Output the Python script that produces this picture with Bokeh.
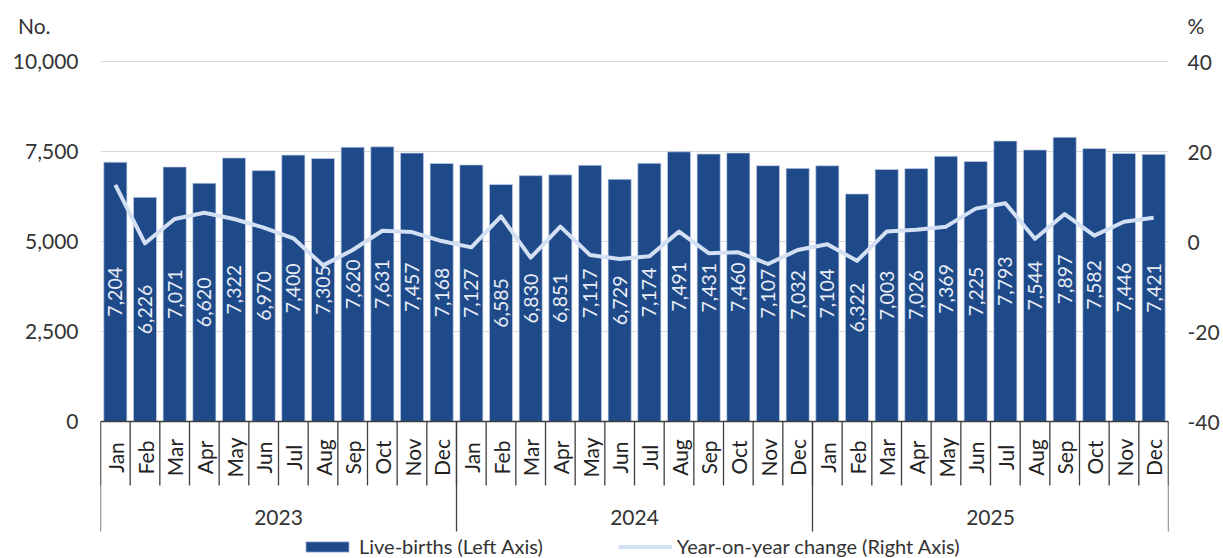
import math
from bokeh.plotting import figure
from bokeh.models import (Range1d, LinearAxis, FixedTicker, NumeralTickFormatter,
                          Legend, LegendItem, ColumnDataSource)
from bokeh.embed import file_html
from bokeh.resources import INLINE
from bokeh.core.properties import value

# ---------------- data ----------------
months = ["Jan", "Feb", "Mar", "Apr", "May", "Jun",
          "Jul", "Aug", "Sep", "Oct", "Nov", "Dec"]
years = ["2023", "2024", "2025"]
births = [7204, 6226, 7071, 6620, 7322, 6970, 7400, 7305, 7620, 7631, 7457, 7168,
          7127, 6585, 6830, 6851, 7117, 6729, 7174, 7491, 7431, 7460, 7107, 7032,
          7104, 6322, 7003, 7026, 7369, 7225, 7793, 7544, 7897, 7582, 7446, 7421]
yoy = [12.6, -0.4, 5.0, 6.4, 5.0, 3.1, 0.7, -5.3, -1.9, 2.4, 2.1, 0.1,
       -1.3, 5.6, -3.6, 3.3, -3.0, -3.9, -3.3, 2.2, -2.6, -2.4, -5.0, -1.9,
       -0.6, -4.3, 2.2, 2.6, 3.3, 7.3, 8.5, 0.6, 6.1, 1.3, 4.4, 5.3]
left_ticks = [0, 2500, 5000, 7500, 10000]
right_ticks = [-40, -20, 0, 20, 40]
left_unit = "No."
right_unit = "%"
bar_label = "Live-births (Left Axis)"
line_label = "Year-on-year change (Right Axis)"

# ---------------- layout ----------------
FONT = "Lato"
BAR = "#1F4A8A"
LINE = "#D3DFF2"
INK = "#333333"
AX = "#3F3F3F"

W, H = 1223, 558
FL, FR = 100, 1168           # frame left / right (px)
n = len(births)
Y0_PX, YTOP_PX = 421, 61     # px of left 0 and left 10000
ppu = (Y0_PX - YTOP_PX) / (left_ticks[-1] - left_ticks[0])
y_hi = left_ticks[-1] + YTOP_PX / ppu
y_lo = left_ticks[0] - (H - Y0_PX) / ppu
r_scale = (right_ticks[-1] - right_ticks[0]) / (left_ticks[-1] - left_ticks[0])


def to_right(v):
    return right_ticks[0] + (v - left_ticks[0]) * r_scale


def px2y(iy):   # pixel row -> left y data
    return (Y0_PX - iy) / ppu


UNIT_Y = round(px2y(25))
UNIT_R = round(to_right(UNIT_Y))

p = figure(width=W, height=H, x_range=Range1d(-0.5, n - 0.5),
           y_range=Range1d(y_lo, y_hi), output_backend="svg",
           toolbar_location=None, x_axis_location=None,
           min_border_left=FL, min_border_right=W - FR,
           min_border_top=0, min_border_bottom=0,
           outline_line_color=None, background_fill_color="white",
           border_fill_color="white")


def style_axis(a, standoff):
    a.axis_line_color = None
    a.major_tick_line_color = None
    a.minor_tick_line_color = None
    a.major_tick_out = 0
    a.major_tick_in = 0
    a.major_label_standoff = standoff
    a.major_label_text_font = FONT
    a.major_label_text_font_size = "21px"
    a.major_label_text_color = INK


# left axis (values)
ya = p.yaxis[0]
ya.ticker = FixedTicker(ticks=left_ticks)
ya.formatter = NumeralTickFormatter(format="0,0")
style_axis(ya, 22)

# left unit caption as an outer axis label
ua = LinearAxis(ticker=FixedTicker(ticks=[UNIT_Y]),
                major_label_overrides={UNIT_Y: left_unit})
style_axis(ua, -41)
p.add_layout(ua, "left")

# right axis (percent) with unit caption at its top
p.extra_y_ranges = {"pct": Range1d(to_right(y_lo), to_right(y_hi))}
ra = LinearAxis(y_range_name="pct",
                ticker=FixedTicker(ticks=right_ticks + [UNIT_R]),
                formatter=NumeralTickFormatter(format="0"),
                major_label_overrides={UNIT_R: right_unit})
style_axis(ra, 19)
p.add_layout(ra, "right")

p.xgrid.visible = False
p.ygrid.ticker = FixedTicker(ticks=left_ticks[1:])
p.ygrid.grid_line_color = "#D9D9D9"
p.ygrid.grid_line_width = 1

xs = list(range(n))
src = ColumnDataSource(dict(x=xs, births=births, half=[b / 2 for b in births],
                            lab=[f"{b:,}" for b in births], yoy=yoy))

bars = p.vbar(x="x", top="births", bottom=0, width=0.78, source=src,
              fill_color=BAR, line_color="#C9D6EC", line_width=1, line_alpha=0.7)

p.text(x="x", y="half", text="lab", source=src, angle=math.pi / 2,
       text_align="center", text_baseline="middle", text_color="#E9EEF6",
       text_font=value(FONT), text_font_size="19.5px")

# category axis drawn by hand
sep_x = [k - 0.5 for k in range(n + 1)]
p.segment(x0=sep_x, y0=[0] * len(sep_x), x1=sep_x, y1=[px2y(485)] * len(sep_x),
          line_color=AX, line_width=1.3)
year_sep = [k * len(months) - 0.5 for k in range(len(years) + 1)]
p.segment(x0=year_sep, y0=[0] * len(year_sep), x1=year_sep,
          y1=[px2y(531)] * len(year_sep), line_color=AX, line_width=1.3)
p.segment(x0=[-0.5], y0=[0], x1=[n - 0.5], y1=[0], line_color=AX, line_width=1.5)

p.text(x=xs, y=[px2y(457)] * n, text=[months[i % 12] for i in xs],
       angle=math.pi / 2, text_align="center", text_baseline="middle",
       text_color="#222222", text_font=value(FONT), text_font_size="21px")
p.text(x=[k * len(months) + (len(months) - 1) / 2 for k in range(len(years))],
       y=[px2y(517)] * len(years), text=years, text_align="center",
       text_baseline="middle", text_color=INK, text_font=value(FONT),
       text_font_size="21px")

line = p.line(x="x", y="yoy", source=src, y_range_name="pct", line_color=LINE,
              line_width=4, line_join="round")

legend = Legend(items=[LegendItem(label=bar_label, renderers=[bars]),
                       LegendItem(label=line_label, renderers=[line])],
                orientation="horizontal", location=(300 - FL, 0),
                padding=0, margin=0, spacing=75, glyph_width=54, glyph_height=13,
                label_standoff=5, label_text_font=FONT,
                label_text_font_size="20px", label_text_color=INK,
                border_line_color=None, background_fill_alpha=0)
p.add_layout(legend)

open("out.html", "w").write(file_html(p, INLINE))
